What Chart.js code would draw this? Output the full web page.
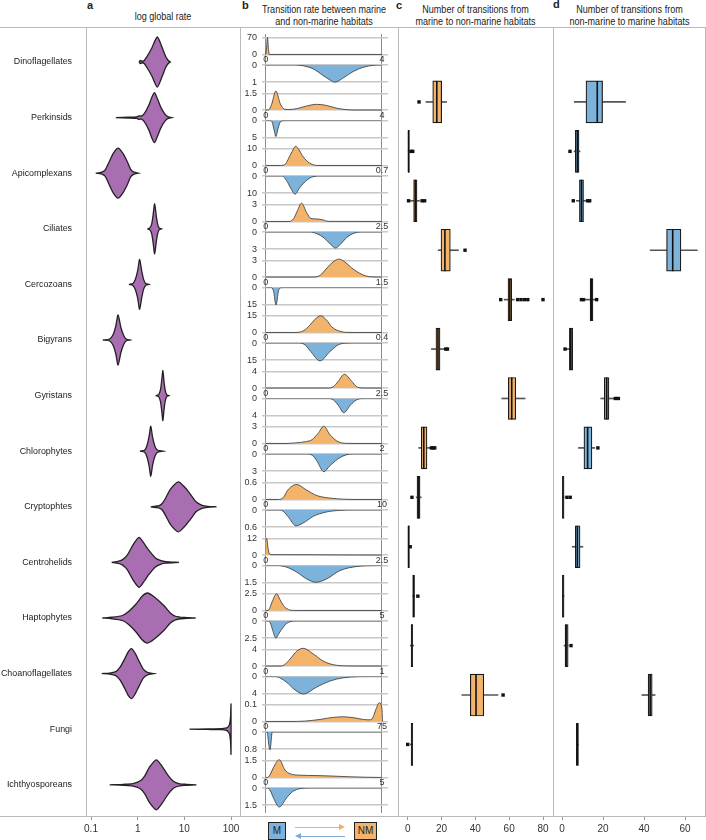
<!DOCTYPE html>
<html>
<head>
<meta charset="utf-8">
<script src="https://cdn.jsdelivr.net/npm/chart.js@4.4.1/dist/chart.umd.min.js"></script>
<style>
  body { margin: 0; width: 706px; height: 840px; position: relative; overflow: hidden; background: #fff;
         font-family: "Liberation Sans", Arial, sans-serif; color: #222; }
  canvas { position: absolute; }
  .hl, .vl { position: absolute; background: #b8b8b8; }
  .hl { height: 1px; left: 0; width: 706px; }
  .vl { width: 1px; top: 27px; height: 790px; }
  .title { position: absolute; font-size: 10.5px; line-height: 11.5px; text-align: center; white-space: nowrap;
           transform: scaleX(0.86); transform-origin: center top; }
  .letter { position: absolute; font: bold 11px "Liberation Sans", Arial, sans-serif; }
  .key { position: absolute; top: 822px; height: 18px; border: 1px solid #222; box-sizing: border-box;
         font: 10px "Liberation Sans", Arial, sans-serif; line-height: 16px; text-align: center; }
  .shaft { position: absolute; height: 1px; }
  .head { position: absolute; width: 0; height: 0; border-top: 3.5px solid transparent; border-bottom: 3.5px solid transparent; }
</style>
</head>
<body>
<canvas id="rate" width="240" height="813" style="left:0;top:27px"></canvas>
<div id="panelB"></div>
<canvas id="toNonMarine" width="155" height="813" style="left:398px;top:27px"></canvas>
<canvas id="toMarine" width="153" height="813" style="left:553px;top:27px"></canvas>

<div class="letter" style="left:87px;top:-1px">a</div>
<div class="letter" style="left:242px;top:-1px">b</div>
<div class="letter" style="left:396px;top:-1px">c</div>
<div class="letter" style="left:553px;top:-2px">d</div>
<div class="title" style="left:86px;width:154px;top:11px">log global rate</div>
<div class="title" style="left:245px;width:158px;top:4px">Transition rate between marine<br>and non-marine habitats</div>
<div class="title" style="left:398px;width:155px;top:4px">Number of transitions from<br>marine to non-marine habitats</div>
<div class="title" style="left:553px;width:153px;top:4px">Number of transitions from<br>non-marine to marine habitats</div>

<div class="hl" style="top:27px"></div>
<div class="hl" style="top:816px"></div>
<div class="vl" style="left:86px"></div>
<div class="vl" style="left:240px"></div>
<div class="vl" style="left:398px"></div>
<div class="vl" style="left:553px"></div>
<div class="vl" style="left:705px"></div>

<div class="key" style="left:268px;width:18px;background:#7DB2DA">M</div>
<div class="key" style="left:354px;width:23px;background:#F4B36A">NM</div>
<div class="shaft" style="left:295px;top:827px;width:44px;background:#F0AE62"></div>
<div class="head" style="left:339px;top:824px;border-left:6px solid #F0AE62"></div>
<div class="shaft" style="left:301px;top:836px;width:44px;background:#7DAAD6"></div>
<div class="head" style="left:295px;top:833px;border-right:6px solid #7DAAD6"></div>

<script>
const categories = ['Dinoflagellates', 'Perkinsids', 'Apicomplexans', 'Ciliates', 'Cercozoans', 'Bigyrans',
  'Gyristans', 'Chlorophytes', 'Cryptophtes', 'Centrohelids', 'Haptophytes', 'Choanoflagellates', 'Fungi', 'Ichthyosporeans'];

// panel a: violin outline, [rate, relative width]
const violinDensity = [
  [[1.07,0],[1.15,0.06],[1.26,0.03],[1.38,0.06],[1.58,0.22],[2.0,0.55],[2.63,1],[3.31,0.6],[3.98,0.22],[4.57,0.05],[5.01,0]],
  [[0.34,0],[0.63,0.015],[0.95,0.03],[1.07,0.07],[1.2,0.06],[1.41,0.18],[1.74,0.5],[2.0,0.8],[2.29,1],[2.69,0.72],[3.16,0.4],[3.8,0.15],[4.37,0.04],[5.37,0]],
  [[0.126,0],[0.166,0.03],[0.2,0.12],[0.24,0.42],[0.302,0.8],[0.38,1],[0.479,0.8],[0.603,0.45],[0.708,0.15],[0.832,0.04],[1.035,0]],
  [[1.62,0],[1.82,0.04],[2.0,0.2],[2.14,0.55],[2.31,1],[2.51,0.5],[2.69,0.18],[2.88,0.04],[3.24,0]],
  [[0.65,0],[0.79,0.04],[0.89,0.2],[1.0,0.55],[1.1,1],[1.23,0.5],[1.35,0.18],[1.48,0.04],[1.74,0]],
  [[0.18,0],[0.25,0.04],[0.295,0.2],[0.339,0.55],[0.38,1],[0.437,0.5],[0.501,0.18],[0.562,0.04],[0.684,0]],
  [[2.43,0],[2.82,0.04],[3.09,0.25],[3.27,0.6],[3.47,1],[3.67,0.55],[3.89,0.22],[4.17,0.04],[4.68,0]],
  [[1.12,0],[1.41,0.04],[1.58,0.22],[1.76,0.6],[1.91,1],[2.09,0.55],[2.34,0.2],[2.63,0.05],[3.55,0]],
  [[1.91,0],[2.4,0.03],[2.82,0.04],[3.31,0.12],[3.98,0.35],[5.01,0.7],[7.41,1],[10,0.8],[13.5,0.5],[17.8,0.2],[24,0.06],[31.6,0.02],[49,0]],
  [[0.277,0],[0.355,0.03],[0.468,0.1],[0.603,0.3],[0.794,0.7],[1.07,1],[1.38,0.75],[1.74,0.48],[2.4,0.18],[3.16,0.07],[3.98,0.03],[7.67,0]],
  [[0.175,0],[0.282,0.03],[0.468,0.1],[0.631,0.25],[0.912,0.55],[1.26,0.88],[1.62,1],[2.24,0.85],[3.63,0.5],[5.01,0.2],[6.46,0.07],[10,0.02],[17.4,0]],
  [[0.17,0],[0.251,0.02],[0.339,0.08],[0.417,0.25],[0.513,0.55],[0.631,0.88],[0.741,1],[0.891,0.8],[1.07,0.5],[1.32,0.18],[1.62,0.05],[2.24,0]],
  [[12.9,0],[31.6,0.01],[63.1,0.02],[75.9,0.04],[85.1,0.08],[93.3,0.2],[97.7,0.5],[100,1]],
  [[0.251,0],[0.501,0.02],[0.794,0.05],[1.12,0.15],[1.41,0.35],[1.78,0.7],[2.51,1],[3.39,0.72],[4.47,0.38],[6.03,0.12],[7.94,0.04],[11.2,0.02],[18.1,0]]
];

// panel b: transition rate densities
const rateMax = [4, 4, 0.7, 2.5, 1.5, 0.4, 2.5, 2, 10, 2.5, 5, 1, 75, 5];
const rateTickUp = [70, 1.5, 10, 3, 3, 15, 4, 3, 0.6, 12, 2.5, 4, 0.1, 1.5];
const rateTickDown = [1, 5, 10, 3, 15, 15, 4, 3, 0.6, 1.5, 2.5, 4, 0.8, 1.5];
const densityMtoNM = [
  [[0,0],[0.03,30],[0.06,72],[0.09,30],[0.12,0],[4,0]],
  [[0,0],[0.1,0.02],[0.2,0.5],[0.35,1.75],[0.5,0.6],[0.65,0.08],[0.8,0.05],[1.1,0.15],[1.4,0.37],[1.75,0.53],[2.1,0.42],[2.45,0.17],[2.8,0.03],[3.2,0],[4,0]],
  [[0,0],[0.09,0],[0.12,1],[0.14,4.7],[0.16,8.5],[0.18,11.5],[0.2,9.5],[0.22,6],[0.25,2.5],[0.28,0.6],[0.32,0],[0.7,0]],
  [[0,0],[0.5,0],[0.6,0.5],[0.68,1.9],[0.77,3.3],[0.88,1.6],[0.97,0.55],[1.1,0.45],[1.22,0.3],[1.35,0.02],[2.5,0]],
  [[0,0],[0.6,0],[0.7,0.3],[0.79,1.67],[0.87,2.8],[0.945,3.3],[1.02,2.8],[1.11,1.67],[1.24,0.5],[1.35,0.05],[1.5,0]],
  [[0,0],[0.1,0],[0.13,1.5],[0.152,6.6],[0.17,12],[0.189,15],[0.21,11],[0.227,5.1],[0.25,1.5],[0.275,0.1],[0.3,0],[0.4,0]],
  [[0,0],[1.35,0],[1.45,0.3],[1.56,1.65],[1.69,3.4],[1.85,1.65],[1.95,0.4],[2.05,0.02],[2.15,0],[2.5,0]],
  [[0,0],[0.35,0],[0.5,0.1],[0.7,0.35],[0.8,0.7],[0.9,1.8],[1.0,3.1],[1.1,1.65],[1.22,0.47],[1.36,0.03],[1.5,0],[2,0]],
  [[0,0],[1.1,0],[1.5,0.06],[1.94,0.36],[2.67,0.54],[3.5,0.34],[4.4,0.14],[5.5,0.05],[6.7,0.01],[7.5,0],[10,0]],
  [[0,11],[0.02,12.3],[0.05,5],[0.08,0.8],[0.15,0.3],[0.5,0.25],[1.0,0.2],[1.5,0.1],[2.0,0.03],[2.5,0]],
  [[0,0],[0.1,0],[0.18,0.4],[0.27,1.25],[0.47,2.5],[0.62,1.6],[0.76,0.75],[0.97,0.15],[1.2,0.01],[1.4,0],[5,0]],
  [[0,0],[0.13,0],[0.16,0.3],[0.21,1.74],[0.267,3.65],[0.323,4.35],[0.41,2.96],[0.495,1.22],[0.58,0.35],[0.7,0.03],[0.8,0],[1,0]],
  [[0,0],[15,0],[25,0.002],[35,0.012],[43,0.024],[50,0.028],[57,0.022],[63,0.012],[67,0.01],[69,0.02],[71,0.07],[73.3,0.113],[75,0.075],[75.4,0]],
  [[0,0],[0.08,0],[0.2,0.3],[0.33,0.89],[0.58,1.6],[0.83,0.67],[1.04,0.34],[1.5,0.2],[2.2,0.17],[2.8,0.13],[3.5,0.07],[4.3,0.02],[5,0]]
];
const densityNMtoM = [
  [[0,0],[1.0,0],[1.3,0.05],[1.64,0.23],[1.98,0.62],[2.21,0.87],[2.38,1.0],[2.67,0.75],[3.01,0.38],[3.36,0.13],[3.7,0.02],[4,0]],
  [[0,0],[0.15,0],[0.22,0.5],[0.28,2.5],[0.35,4.8],[0.42,2.5],[0.5,0.5],[0.6,0.05],[0.8,0],[4,0]],
  [[0,0],[0.1,0],[0.125,2.6],[0.155,7.9],[0.176,10.6],[0.205,6.8],[0.245,2.6],[0.285,0.4],[0.33,0],[0.7,0]],
  [[0,0],[0.95,0],[1.1,0.3],[1.25,1.0],[1.4,2.2],[1.5,2.8],[1.6,2.2],[1.75,0.9],[1.9,0.2],[2.05,0],[2.5,0]],
  [[0,0],[0.07,0],[0.1,3],[0.133,15.6],[0.165,3],[0.2,0.2],[0.25,0],[1.5,0]],
  [[0,0],[0.11,0],[0.135,1.5],[0.155,7.5],[0.187,15.6],[0.221,7.5],[0.25,1.5],[0.28,0.1],[0.3,0],[0.4,0]],
  [[0,0],[1.35,0],[1.45,0.3],[1.56,1.6],[1.68,3.4],[1.82,1.6],[1.95,0.35],[2.05,0.02],[2.15,0],[2.5,0]],
  [[0,0],[0.7,0],[0.8,0.2],[0.88,1.2],[1.0,3.1],[1.1,2.1],[1.25,0.8],[1.38,0.15],[1.5,0],[2,0]],
  [[0,0],[1.2,0],[1.5,0.04],[1.94,0.24],[2.6,0.55],[3.2,0.46],[4.1,0.22],[5.2,0.07],[6.5,0.01],[7.5,0],[10,0]],
  [[0,0],[0.25,0],[0.45,0.15],[0.67,0.6],[0.88,1.2],[1.08,1.5],[1.31,1.2],[1.6,0.45],[1.96,0.09],[2.3,0.01],[2.5,0]],
  [[0,0],[0.12,0],[0.2,0.3],[0.3,1.35],[0.44,2.5],[0.55,1.9],[0.69,1.2],[0.85,0.5],[0.97,0.2],[1.2,0.01],[1.4,0],[5,0]],
  [[0,0],[0.08,0],[0.12,0.3],[0.18,1.4],[0.252,3.2],[0.323,4.17],[0.44,2.5],[0.553,1.08],[0.667,0.33],[0.8,0.03],[0.9,0],[1,0]],
  [[0,0],[1.0,0],[1.5,0.3],[2.2,0.7],[2.8,0.83],[3.3,0.6],[3.9,0.1],[4.5,0],[75,0]],
  [[0,0],[0.08,0],[0.2,0.25],[0.33,0.86],[0.58,1.66],[0.9,0.86],[1.1,0.4],[1.33,0.13],[1.7,0.01],[2,0],[5,0]]
];

// panel c: marine -> non-marine transitions
const mToNmQ1 =     [14.8, 0, 3.5, 19.7, 59.3, 16.7, 59.5, 8, 5.5, 0, 3, 2, 37, 2];
const mToNmMedian = [17.2, 0.5, 4.5, 22, 60.4, 17.9, 61.5, 9.5, 6.5, 0.5, 3.5, 2.5, 40.4, 2.5];
const mToNmQ3 =     [20.1, 1, 5.5, 25.2, 61.5, 19.1, 63.9, 11.4, 7.3, 1, 4, 3, 45, 3];
const mToNmLow =    [10.8, 0, 1.5, 18, 57, 14, 55.6, 6.5, 5, 0, 3, 1.5, 32, 1.5];
const mToNmHigh =   [23, 1, 7, 30, 63, 22, 69.4, 13, 8, 1.5, 4, 3.5, 53.4, 3];
const mToNmOutliers = [[6.7], [2, 3], [0.5, 8.5, 10], [33.9], [55, 65, 67, 69, 71, 80], [22.5, 23.5], [],
  [14, 15, 16], [2.5], [1.5], [6], [], [56.4], [0]];

// panel d: non-marine -> marine transitions
const nmToMQ1 =     [11.7, 6.5, 8.5, 51, 13.7, 3.6, 20.6, 10.7, 0, 6.5, 0, 1.5, 42, 7];
const nmToMMedian = [17.2, 7.5, 9.5, 54, 14.3, 4.3, 21.8, 12.5, 0.5, 7.5, 0.5, 2, 43, 7.5];
const nmToMQ3 =     [19.8, 8.3, 10.5, 58, 15.1, 5.2, 22.9, 14.6, 1, 8.8, 1, 3, 44, 8];
const nmToMLow =    [6, 5.9, 7, 43, 11, 1, 18.9, 8, 0, 5, 0, 1, 39, 7];
const nmToMHigh =   [31, 8.8, 12, 66, 16.5, 5.2, 25.4, 16, 1, 10.2, 1, 3, 45.4, 8];
const nmToMOutliers = [[], [3.9], [5.5, 12.5, 13.5], [], [9.5, 10.5, 16.9], [1.5], [26, 27.5],
  [17.5], [2.4, 4], [], [], [4.4], [], []];

const logTicks = [0.1, 1, 10, 100];
const countTicksC = [0, 20, 40, 60, 80];
const countTicksD = [0, 20, 40, 60];

const ORANGE = '#F4B36A', BLUE = '#7DB2DA', PURPLE = '#A96DB1';
const ROW0 = 62, ROW_H = 55.6;              // first row centre, row pitch (px)
const ROW_MIN = -0.6295, ROW_MAX = 13.561;  // row axis range for a 27..816 plot
const HALF = 0.45;                          // violin half width in rows

Chart.defaults.font.family = '"Liberation Sans", Arial, sans-serif';
Chart.defaults.color = '#333';
Chart.defaults.animation = false;
Chart.defaults.plugins.legend.display = false;
Chart.defaults.plugins.tooltip.enabled = false;

function noPad(s) { s.paddingLeft = 0; s.paddingRight = 0; s.paddingTop = 0; s.paddingBottom = 0; }

const bottomAxis = (min, max, ticks, type) => ({
  type: type, min: min, max: max,
  afterBuildTicks: s => { s.ticks = ticks.map(v => ({value: v})); },
  afterFit: s => { s.height = 24; noPad(s); },
  ticks: {callback: v => String(v), font: {size: 10}, padding: 3, maxRotation: 0, autoSkip: false},
  grid: {drawOnChartArea: false, tickLength: 4, tickColor: '#999'},
  border: {display: false}
});

// a: log global rate
new Chart(document.getElementById('rate'), {
  type: 'scatter',
  data: {
    datasets: violinDensity.map((pts, i) => ({
      data: pts.map(p => ({x: p[0], y: i - p[1] * HALF}))
        .concat(pts.slice().reverse().map(p => ({x: p[0], y: i + p[1] * HALF}))),
      showLine: true, fill: 'shape', backgroundColor: PURPLE, borderColor: '#222',
      borderWidth: 1.3, pointRadius: 0, tension: 0.25
    }))
  },
  options: {
    responsive: false,
    layout: {padding: 0, autoPadding: false},
    scales: {
      x: bottomAxis(0.0781, 155.8, logTicks, 'logarithmic'),
      y: {
        type: 'linear', min: ROW_MIN, max: ROW_MAX, reverse: true,
        afterBuildTicks: s => { s.ticks = categories.map((c, i) => ({value: i})); },
        afterFit: s => { s.width = 86; noPad(s); },
        ticks: {callback: v => categories[Math.round(v)], font: {size: 8.9}, color: '#222', padding: 6, autoSkip: false},
        grid: {display: false}, border: {display: false}
      }
    }
  }
});

// b: one small chart per row, orange density above, blue density mirrored below
const O_HEAD = 3.8, O_SPAN = 16.5, O_FOOT = 10.5, B_SPAN = 17, B_FOOT = 7.8;
categories.forEach((name, i) => {
  const top = Math.round(ROW0 + ROW_H * (i - 0.5));
  const h = Math.round(ROW0 + ROW_H * (i + 0.5)) - top;
  const cv = document.createElement('canvas');
  cv.width = 156; cv.height = h;
  cv.style.left = '240px'; cv.style.top = top + 'px';
  document.getElementById('panelB').appendChild(cv);
  const m = rateMax[i], tu = rateTickUp[i], td = rateTickDown[i];
  const yTicks = (v) => ({
    afterBuildTicks: s => { s.ticks = [{value: 0}, {value: v}]; },
    afterFit: s => { s.width = 22; noPad(s); },
    ticks: {callback: t => String(t), font: {size: 9}, padding: 5, autoSkip: false},
    grid: {color: '#c8c8c8', lineWidth: 1.5, drawTicks: false},
    border: {display: false}
  });
  new Chart(cv, {
    type: 'line',
    data: {
      datasets: [
        {data: densityMtoNM[i], yAxisID: 'yUp', fill: 'origin', backgroundColor: ORANGE, borderColor: '#333',
         borderWidth: 0.8, pointRadius: 0, cubicInterpolationMode: 'monotone'},
        {data: densityNMtoM[i], yAxisID: 'yDown', fill: 'origin', backgroundColor: BLUE, borderColor: '#333',
         borderWidth: 0.8, pointRadius: 0, cubicInterpolationMode: 'monotone'}
      ]
    },
    options: {
      responsive: false,
      layout: {padding: {right: 8}, autoPadding: false},
      scales: {
        x: {
          type: 'linear', min: -0.032 * m, max: 1.052 * m, position: {yUp: 0},
          afterBuildTicks: s => { s.ticks = [{value: 0}, {value: m}]; },
          afterFit: s => noPad(s),
          ticks: {callback: v => String(v), font: {size: 9}, padding: 0, maxRotation: 0, autoSkip: false},
          grid: {color: '#8c8c8c', lineWidth: 1, drawTicks: false},
          border: {display: false}
        },
        yUp: Object.assign({type: 'linear', position: 'left', stack: 'rate', stackWeight: 30.8, weight: 2,
          min: -tu * O_FOOT / O_SPAN, max: tu * (1 + O_HEAD / O_SPAN)}, yTicks(tu)),
        yDown: Object.assign({type: 'linear', position: 'left', stack: 'rate', stackWeight: 24.8, weight: 1,
          reverse: true, min: 0, max: td * (1 + B_FOOT / B_SPAN)}, yTicks(td))
      }
    }
  });
});

// c and d: box plots (whisker bar, box bar, median line, outlier squares)
const medianLines = {
  id: 'medianLines',
  afterDatasetsDraw(chart, args, opts) {
    const {ctx, scales: {x, y}} = chart;
    ctx.save();
    ctx.strokeStyle = '#111';
    ctx.lineWidth = 1.6;
    opts.values.forEach((m, i) => {
      const px = x.getPixelForValue(m), py = y.getPixelForValue(i);
      ctx.beginPath();
      ctx.moveTo(px, py - 21);
      ctx.lineTo(px, py + 21);
      ctx.stroke();
    });
    ctx.restore();
  }
};

function countPanel(id, q1, med, q3, lo, hi, outliers, color, xMin, xMax, ticks) {
  new Chart(document.getElementById(id), {
    type: 'bar',
    data: {
      datasets: [
        {type: 'bar', data: categories.map((c, i) => ({y: i, x: [lo[i], hi[i]]})),
         backgroundColor: '#555', barThickness: 1, grouped: false, order: 3},
        {type: 'bar', data: categories.map((c, i) => ({y: i, x: [q1[i], q3[i]]})),
         backgroundColor: color, borderColor: '#1a1a1a', borderWidth: 1.2, borderSkipped: false,
         barThickness: 42, grouped: false, order: 2},
        {type: 'scatter', xAxisID: 'x', yAxisID: 'y',
         data: outliers.flatMap((list, i) => list.map(v => ({x: v, y: i}))),
         pointStyle: 'rect', pointRadius: 2.4, backgroundColor: '#111', borderWidth: 0, order: 1}
      ]
    },
    options: {
      indexAxis: 'y',
      responsive: false,
      layout: {padding: 0, autoPadding: false},
      plugins: {medianLines: {values: med}},
      scales: {
        x: bottomAxis(xMin, xMax, ticks, 'linear'),
        y: {type: 'linear', display: false, min: ROW_MIN, max: ROW_MAX, reverse: true,
            afterFit: s => noPad(s)}
      }
    },
    plugins: [medianLines]
  });
}

countPanel('toNonMarine', mToNmQ1, mToNmMedian, mToNmQ3, mToNmLow, mToNmHigh, mToNmOutliers, ORANGE, -5.735, 85.91, countTicksC);
countPanel('toMarine', nmToMQ1, nmToMMedian, nmToMQ3, nmToMLow, nmToMHigh, nmToMOutliers, BLUE, -4.39, 70.24, countTicksD);
</script>
</body>
</html>
